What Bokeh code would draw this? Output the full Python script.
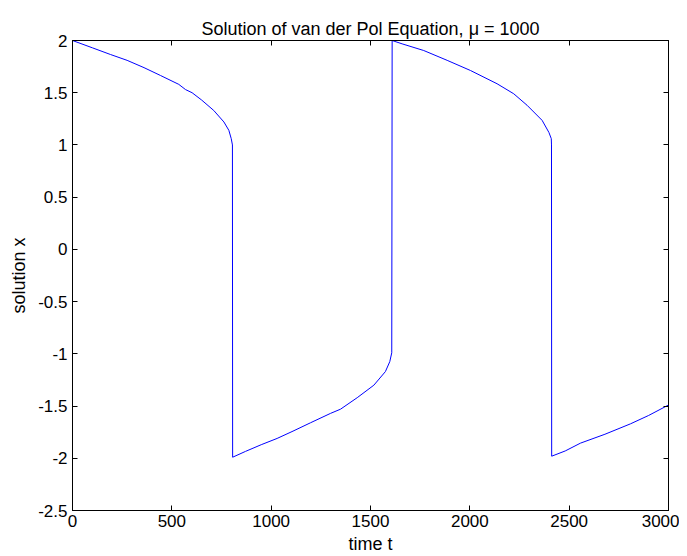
from bokeh.plotting import figure
from bokeh.models import Range1d, LinearAxis, FixedTicker, CustomJSTickFormatter, Title
from bokeh.embed import file_html
from bokeh.resources import INLINE

# Data
time_t = [0, 100, 191, 275, 360, 443, 535, 569, 602, 650, 711, 762, 787, 799, 805,
          806, 871, 950, 1030, 1110, 1198, 1299, 1349, 1433, 1517, 1575, 1597, 1607,
          1609, 1659, 1768, 1886, 2003, 2137, 2221, 2288, 2364, 2398, 2410, 2411,
          2412, 2480, 2557, 2680, 2809, 2900, 3000]
solution_x = [2.0, 1.93, 1.866, 1.81, 1.74, 1.665, 1.58, 1.53, 1.50, 1.43, 1.33, 1.22, 1.14, 1.06, 1.0,
              -1.99, -1.934, -1.87, -1.81, -1.74, -1.66, -1.57, -1.53, -1.42, -1.30, -1.17, -1.075, -0.99,
              2.0, 1.968, 1.904, 1.81, 1.713, 1.586, 1.49, 1.38, 1.235, 1.12, 1.06, 1.0,
              -1.98, -1.93, -1.855, -1.77, -1.67, -1.59, -1.49]

x_ticks = [0, 500, 1000, 1500, 2000, 2500, 3000]
y_ticks = [-2.5, -2, -1.5, -1, -0.5, 0, 0.5, 1, 1.5, 2]

FONT = "Liberation Sans"

p = figure(width=679, height=556, output_backend="svg", toolbar_location=None,
           x_range=Range1d(0, 3000), y_range=Range1d(-2.5, 2),
           x_axis_location=None, y_axis_location=None,
           min_border_left=72, min_border_right=11, min_border_top=40, min_border_bottom=46)
p.title = Title(text="Solution of van der Pol Equation, \u03bc = 1000", align="center",
                text_font=FONT, text_font_size="18px", text_font_style="normal",
                text_color="black", standoff=4)

p.grid.visible = False
p.outline_line_color = "black"
p.background_fill_color = "white"
p.border_fill_color = "white"

empty = CustomJSTickFormatter(code="return ''")
plain = CustomJSTickFormatter(code="return tick.toString()")

def style(ax, ticks, labels=True):
    ax.ticker = FixedTicker(ticks=ticks)
    ax.major_tick_in = 5
    ax.major_tick_out = 0
    ax.minor_tick_line_color = None
    ax.axis_line_color = "black"
    ax.major_tick_line_color = "black"
    ax.major_label_text_font = FONT
    ax.major_label_text_font_size = "17px"
    ax.major_label_text_color = "black"
    ax.axis_label_text_font = FONT
    ax.axis_label_text_font_size = "18px"
    ax.axis_label_text_font_style = "normal"
    ax.axis_label_text_color = "black"
    ax.formatter = plain if labels else empty

xb = LinearAxis(axis_label="time t", axis_label_standoff=4, major_label_standoff=4)
style(xb, x_ticks)
yl = LinearAxis(axis_label="solution x", axis_label_standoff=6, major_label_standoff=5)
style(yl, y_ticks)
xt = LinearAxis(major_label_standoff=0)
style(xt, x_ticks, labels=False)
yr = LinearAxis(major_label_standoff=0)
style(yr, y_ticks, labels=False)

p.add_layout(xb, "below")
p.add_layout(yl, "left")
p.add_layout(xt, "above")
p.add_layout(yr, "right")

p.line(time_t, solution_x, line_color="#0000ff", line_width=1)

open("out.html", "w").write(file_html(p, INLINE))
